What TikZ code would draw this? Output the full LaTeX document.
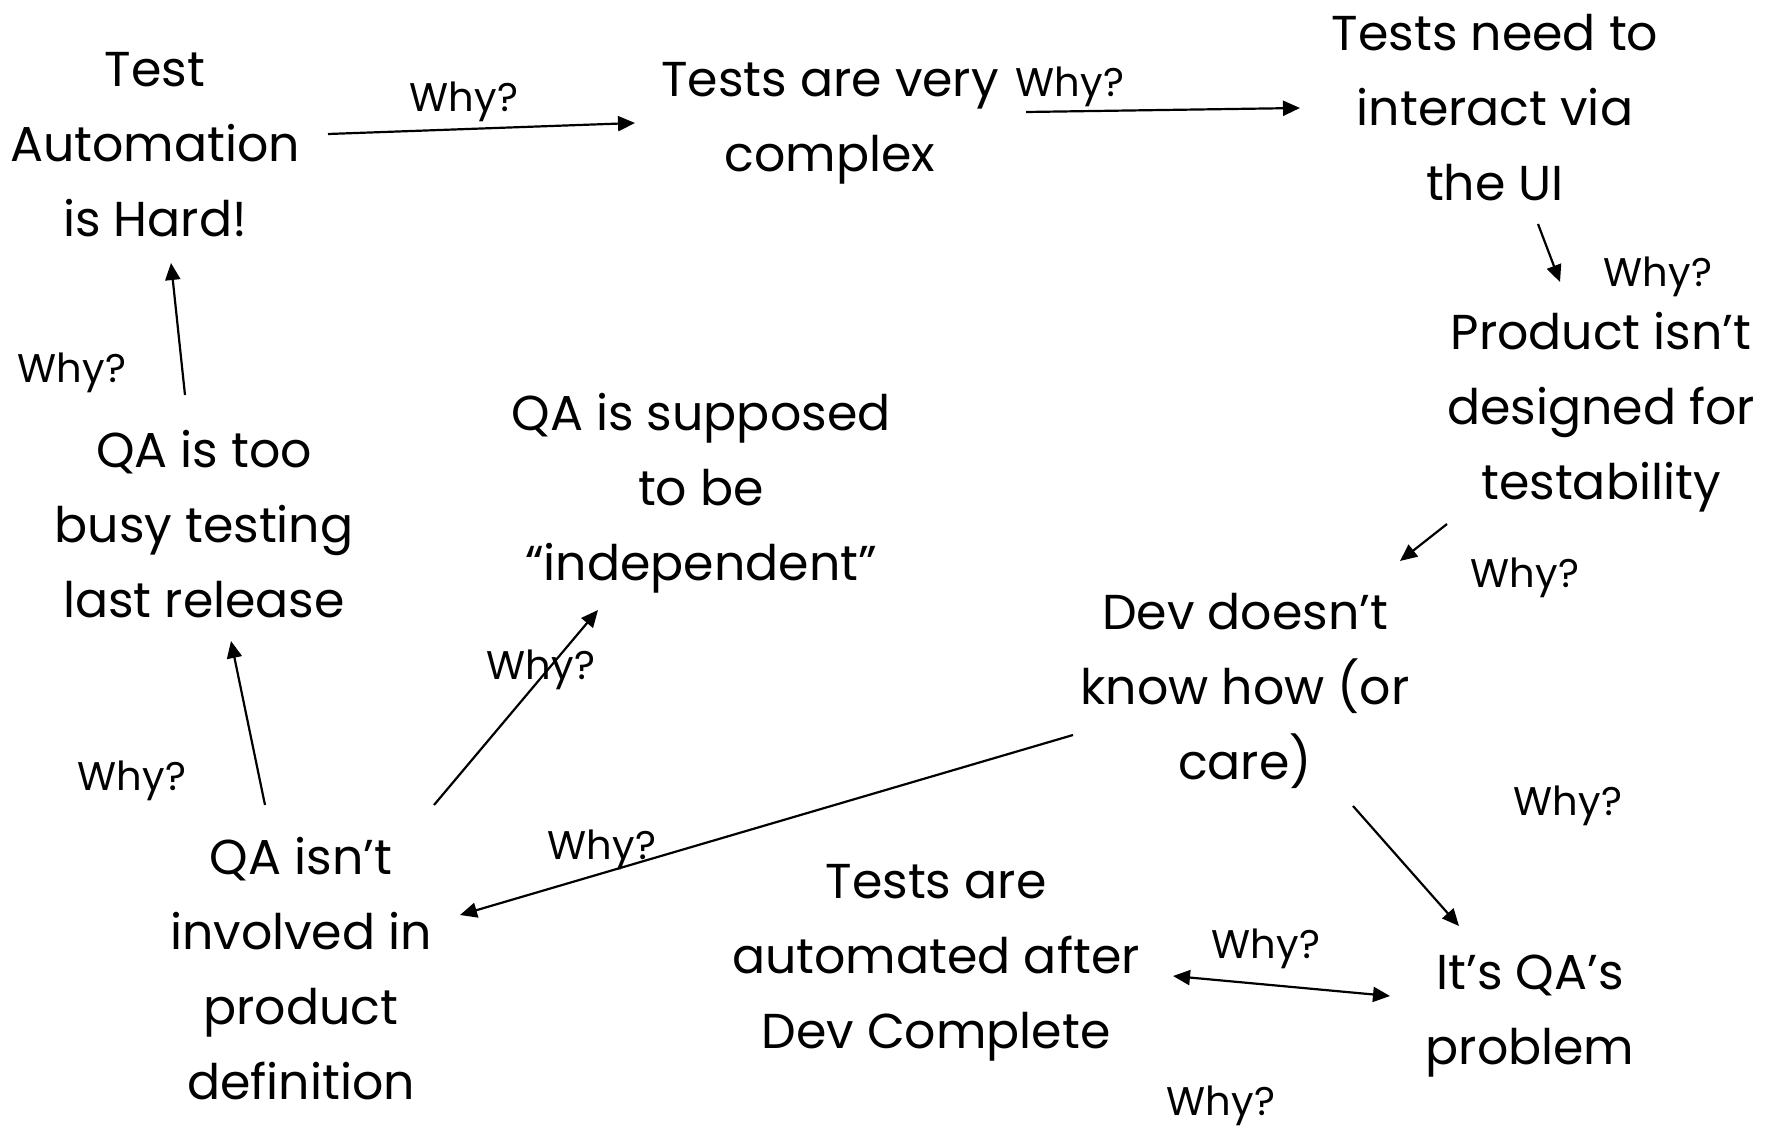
\documentclass[tikz,border=0pt]{standalone}
\usepackage{fontspec}
\setmainfont{Poppins}
\usetikzlibrary{arrows.meta}
\begin{document}
\begin{tikzpicture}[x=1pt,y=-1pt,
  idea/.style={align=center,font=\fontsize{49}{75}\selectfont,inner sep=0pt},
  why/.style={font=\fontsize{40}{44}\selectfont,inner sep=0pt},
  link/.style={line width=2.2pt,-{Triangle[length=17pt,width=15pt]}},
  twolink/.style={line width=2.2pt,{Triangle[length=17pt,width=15pt]}-{Triangle[length=17pt,width=15pt]}}]
\useasboundingbox[fill=white] (0,0) rectangle (1775,1129);

% statements
\node[idea] (hard)    at (155,145)  {Test\\Automation\\is Hard!};
\node[idea] (complex) at (830,123)  {Tests are very\\complex};
\node[idea] (ui)      at (1495,108) {Tests need to\\interact via\\the UI};
\node[idea] (product) at (1601,412) {Product isn’t\\designed for\\testability};
\node[idea] (dev)     at (1245,691) {Dev doesn’t\\know how (or\\care)};
\node[idea] (qaprob)  at (1530,1016){It’s QA’s\\problem};
\node[idea] (after)   at (936,963)  {Tests are\\automated after\\Dev Complete};
\node[idea] (involved) at (301,969) {QA isn’t\\involved in\\product\\definition};
\node[idea] (busy)    at (204,524)  {QA is too\\busy testing\\last release};
\node[idea] (indep)   at (701,493)  {QA is supposed\\to be\\“independent”};

% arrow end points
\coordinate (a1s) at (328,134);  \coordinate (a1e) at (635,123);
\coordinate (a2s) at (1026,112); \coordinate (a2e) at (1300,108);
\coordinate (a3s) at (1538,224); \coordinate (a3e) at (1560,282);
\coordinate (a4s) at (1447,524); \coordinate (a4e) at (1400,561);
\coordinate (a5s) at (1073,735); \coordinate (a5e) at (460,915);
\coordinate (a6s) at (1353,806); \coordinate (a6e) at (1459,926);
\coordinate (a7s) at (1173,976); \coordinate (a7e) at (1390,996);
\coordinate (a8s) at (265,805);  \coordinate (a8e) at (231,641);
\coordinate (a9s) at (434,805);  \coordinate (a9e) at (598,610);
\coordinate (a10s) at (185,395); \coordinate (a10e) at (171,263);

\draw[link] (a1s) -- (a1e);
\draw[link] (a2s) -- (a2e);
\draw[link] (a3s) -- (a3e);
\draw[link] (a4s) -- (a4e);
\draw[link] (a5s) -- (a5e);
\draw[link] (a6s) -- (a6e);
\draw[twolink] (a7s) -- (a7e);
\draw[link] (a8s) -- (a8e);
\draw[link] (a9s) -- (a9e);
\draw[link] (a10s) -- (a10e);

% labels
\node[why] (w1)  at (464,102)  {Why?};
\node[why] (w2)  at (1070,87)  {Why?};
\node[why] (w3)  at (1658,277) {Why?};
\node[why] (w4)  at (1525,578) {Why?};
\node[why] (w5)  at (72,373)   {Why?};
\node[why] (w6)  at (541,670)  {Why?};
\node[why] (w7)  at (132,781)  {Why?};
\node[why] (w8)  at (602,850)  {Why?};
\node[why] (w9)  at (1568,806) {Why?};
\node[why] (w10) at (1266,949) {Why?};
\node[why] (w11) at (1221,1106){Why?};
\end{tikzpicture}
\end{document}
